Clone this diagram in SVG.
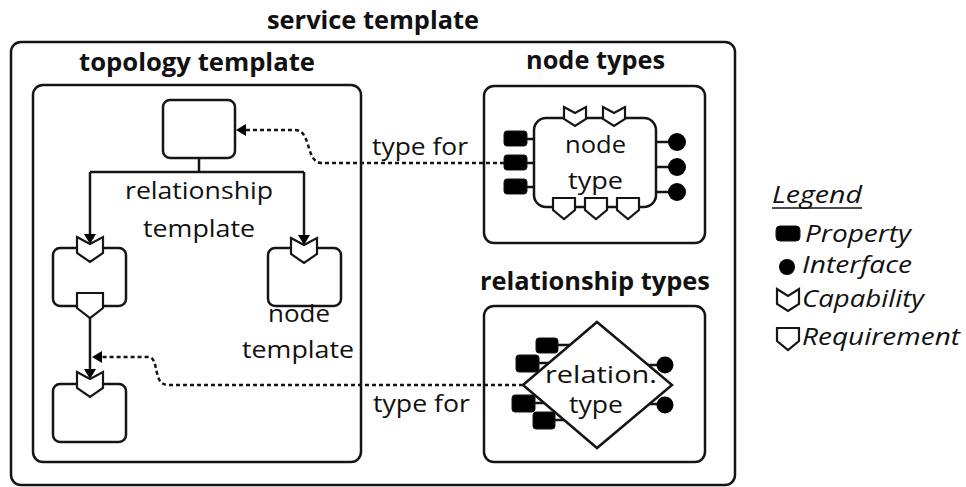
<svg xmlns="http://www.w3.org/2000/svg" width="966" height="487" viewBox="0 0 966 487">
  <style>
    .box { fill: none; stroke: #151515; stroke-width: 2.5; }
    .node { fill: #fff; stroke: #151515; stroke-width: 2.5; }
    .port { fill: #fff; stroke: #151515; stroke-width: 2.2; stroke-linejoin: miter; }
    .prop { fill: #000; stroke: #151515; stroke-width: 1; }
    .iface { fill: #000; }
    .link { fill: none; stroke: #151515; stroke-width: 2.5; }
    .solid { fill: none; stroke: #151515; stroke-width: 2.5; }
    .dotted { fill: none; stroke: #151515; stroke-width: 2.5; stroke-dasharray: 4 3; }
    text { font-family: "Open Sans", "Noto Sans", "Liberation Sans", sans-serif; fill: #111; }
    .title { font-size: 25px; font-weight: bold; }
    .lbl { font-size: 24px; }
    .leg { font-size: 23px; font-style: italic; }
  </style>
  <defs>
    <marker id="arrow" viewBox="0 0 10 12" markerWidth="10" markerHeight="12" refX="5" refY="6" orient="auto" markerUnits="userSpaceOnUse">
      <path d="M0,0 L10,6 L0,12 Z" fill="#000"/>
    </marker>
  </defs>

  <!-- service template container -->
  <g id="service-template">
    <rect class="box" x="11" y="42" width="724" height="443" rx="10"/>
    <text class="title" x="267" y="29" textLength="212" lengthAdjust="spacingAndGlyphs">service template</text>
  </g>

  <!-- topology template container -->
  <g id="topology-template">
    <rect class="box" x="33" y="85" width="328" height="377" rx="10"/>
    <text class="title" x="79" y="71" textLength="236" lengthAdjust="spacingAndGlyphs">topology template</text>
  </g>

  <!-- node types container -->
  <g id="node-types">
    <rect class="box" x="484" y="86" width="221" height="157" rx="10"/>
    <text class="title" x="526" y="69" textLength="139" lengthAdjust="spacingAndGlyphs">node types</text>
  </g>

  <!-- relationship types container -->
  <g id="relationship-types">
    <rect class="box" x="484" y="306" width="221" height="156" rx="10"/>
    <text class="title" x="480" y="290" textLength="230" lengthAdjust="spacingAndGlyphs">relationship types</text>
  </g>

  <!-- connectors -->
  <g id="connectors">
    <path class="solid" d="M199,158 V172 M90,172 H304"/>
    <path class="solid" d="M90,172 V239" marker-end="url(#arrow)"/>
    <path class="solid" d="M304,172 V240" marker-end="url(#arrow)"/>
    <path class="solid" d="M90,318 V374" marker-end="url(#arrow)"/>
    <path class="dotted" d="M504,163 H322 C305,163 312,130 295,130 H241" marker-end="url(#arrow)"/>
    <path class="dotted" d="M523,385 H168 C152,385 160,357 148,357 H97" marker-end="url(#arrow)"/>
    <text class="lbl" x="372" y="155" textLength="96" lengthAdjust="spacingAndGlyphs">type for</text>
    <text class="lbl" x="373" y="412" textLength="97" lengthAdjust="spacingAndGlyphs">type for</text>
    <text class="lbl" x="125" y="199" textLength="148" lengthAdjust="spacingAndGlyphs">relationship</text>
    <text class="lbl" x="143" y="237" textLength="112" lengthAdjust="spacingAndGlyphs">template</text>
  </g>

  <!-- node templates -->
  <g id="node-template-top">
    <rect class="node" x="163" y="100" width="72" height="58" rx="7"/>
  </g>

  <g id="node-template-left">
    <rect class="node" x="53" y="248" width="73" height="58" rx="7"/>
    <path class="port" d="M77,237 L90,244 L103,237 V253 L90,262 L77,253 Z"/>
    <path class="port" d="M77,293 H103 V308 L90,318 L77,308 Z"/>
  </g>

  <g id="node-template-right">
    <rect class="node" x="268" y="248" width="73" height="58" rx="7"/>
    <path class="port" d="M291,238 L304,245 L317,238 V254 L304,263 L291,254 Z"/>
    <text class="lbl" x="268" y="322" textLength="62" lengthAdjust="spacingAndGlyphs">node</text>
    <text class="lbl" x="242" y="358" textLength="112" lengthAdjust="spacingAndGlyphs">template</text>
  </g>

  <g id="node-template-bottom">
    <rect class="node" x="53" y="384" width="73" height="58" rx="7"/>
    <path class="port" d="M77,372 L90,379 L103,372 V388 L90,397 L77,388 Z"/>
  </g>

  <!-- node type -->
  <g id="node-type">
    <path class="link" d="M527,139 H534 M527,163 H534 M527,187 H534 M656,142 H670 M656,167 H670 M656,192 H670"/>
    <rect class="prop" x="504" y="131" width="23" height="15" rx="3"/>
    <rect class="prop" x="504" y="155" width="23" height="15" rx="3"/>
    <rect class="prop" x="504" y="179" width="23" height="15" rx="3"/>
    <circle class="iface" cx="677" cy="142" r="9"/>
    <circle class="iface" cx="677" cy="167" r="9"/>
    <circle class="iface" cx="677" cy="192" r="9"/>
    <rect class="node" x="534" y="118" width="122" height="89" rx="12"/>
    <path class="port" d="M564,107 L575,113 L586,107 V119 L575,126 L564,119 Z"/>
    <path class="port" d="M603,107 L614,113 L625,107 V119 L614,126 L603,119 Z"/>
    <path class="port" d="M553,198 H575 V210 L564,219 L553,210 Z"/>
    <path class="port" d="M585,198 H607 V210 L596,219 L585,210 Z"/>
    <path class="port" d="M617,198 H639 V210 L628,219 L617,210 Z"/>
    <text class="lbl" x="565" y="153" textLength="61" lengthAdjust="spacingAndGlyphs">node</text>
    <text class="lbl" x="568" y="189" textLength="55" lengthAdjust="spacingAndGlyphs">type</text>
  </g>

  <!-- relationship type -->
  <g id="relationship-type">
    <path class="link" d="M556,345 H572 M537,363 H552 M533,403 H546 M553,420 H566 M645,365 H658 M648,404 H658"/>
    <rect class="prop" x="536" y="338" width="22" height="15" rx="3"/>
    <rect class="prop" x="516" y="355" width="23" height="17" rx="3"/>
    <rect class="prop" x="512" y="395" width="23" height="17" rx="3"/>
    <rect class="prop" x="533" y="412" width="22" height="17" rx="3"/>
    <path class="node" d="M597,322 L672,385 L597,448 L523,385 Z" stroke-width="2.2"/>
    <circle class="iface" cx="665" cy="365" r="8.5"/>
    <circle class="iface" cx="665" cy="405" r="8.5"/>
    <text class="lbl" x="545" y="383" textLength="112" lengthAdjust="spacingAndGlyphs">relation.</text>
    <text class="lbl" x="569" y="413" textLength="54" lengthAdjust="spacingAndGlyphs">type</text>
  </g>

  <!-- legend -->
  <g id="legend">
    <text class="leg" x="772" y="203" textLength="90" lengthAdjust="spacingAndGlyphs">Legend</text>
    <line x1="772" y1="208" x2="862" y2="208" stroke="#111" stroke-width="1.5"/>
    <rect class="prop" x="776" y="226" width="24" height="15" rx="4"/>
    <text class="leg" x="805" y="242" textLength="106" lengthAdjust="spacingAndGlyphs">Property</text>
    <circle class="iface" cx="787" cy="267" r="8"/>
    <text class="leg" x="802" y="273" textLength="110" lengthAdjust="spacingAndGlyphs">Interface</text>
    <path class="port" d="M777,289 L788,296 L799,289 V304 L788,311 L777,304 Z"/>
    <text class="leg" x="802" y="307" textLength="122" lengthAdjust="spacingAndGlyphs">Capability</text>
    <path class="port" d="M777,328 H799 V341 L788,350 L777,341 Z"/>
    <text class="leg" x="802" y="345" textLength="158" lengthAdjust="spacingAndGlyphs">Requirement</text>
  </g>
</svg>
